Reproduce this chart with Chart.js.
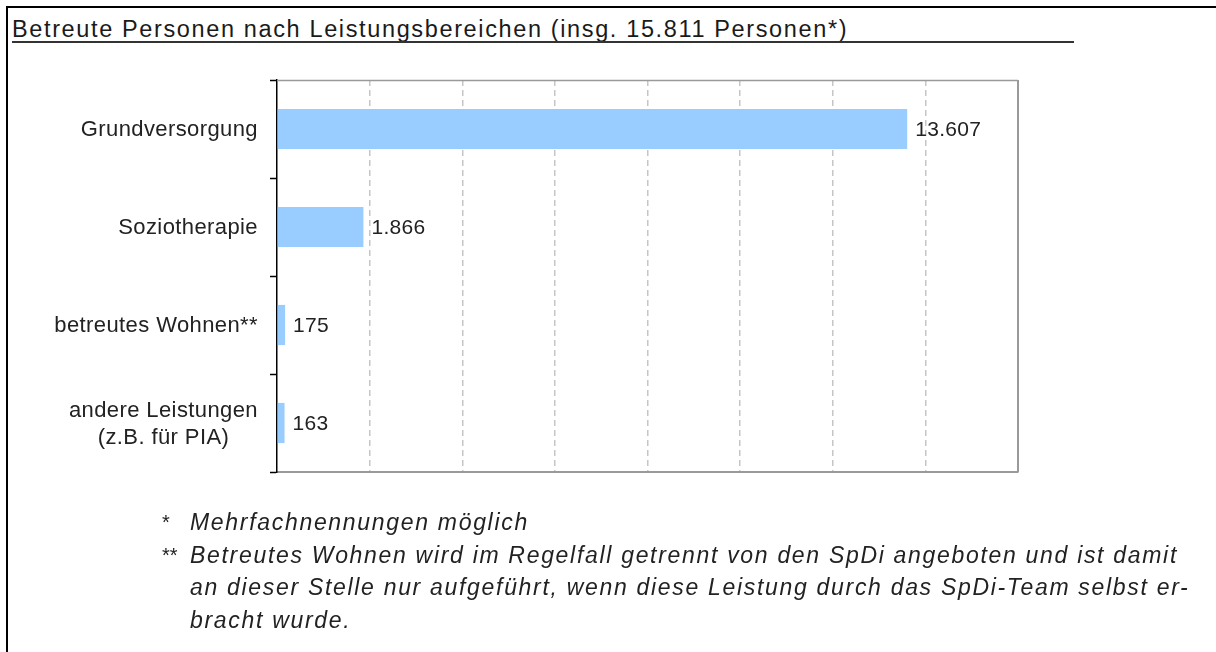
<!DOCTYPE html>
<html lang="de">
<head>
<meta charset="utf-8">
<title>Betreute Personen nach Leistungsbereichen</title>
<script src="https://cdn.jsdelivr.net/npm/chart.js@4"></script>
<style>
  html, body { margin: 0; padding: 0; background: #fff; }
  body {
    width: 1216px; height: 652px; position: relative; overflow: hidden;
    font-family: Arial, "Liberation Sans", sans-serif; color: #1a1a1a;
  }
  #frameTop { position: absolute; left: 6px; top: 6px; width: 1210px; height: 2px; background: #000; }
  #frameLeft { position: absolute; left: 6px; top: 6px; width: 2px; height: 646px; background: #000; }
  #title { position: absolute; left: 12px; top: 16px; font-size: 23.5px; line-height: 26px; white-space: nowrap; }
  #rule { position: absolute; left: 12px; top: 41px; width: 1062px; height: 2px; background: #333; }
  #chartBox { position: absolute; left: 0; top: 0; width: 1216px; height: 652px; }
  .note { position: absolute; left: 190px; font-size: 23px; font-style: italic; line-height: 32.5px; white-space: nowrap; color: #222; }
  .mark { position: absolute; left: 162px; font-size: 20px; line-height: 32.5px; white-space: nowrap; color: #222; }
</style>
</head>
<body>
<div id="frameTop"></div>
<div id="frameLeft"></div>
<div id="title"></div>
<div id="rule"></div>
<div id="chartBox"><canvas id="chart" width="1216" height="652"></canvas></div>
<div id="notes"></div>

<script>
// --- Daten ---
const titleText = "Betreute Personen nach Leistungsbereichen (insg. 15.811 Personen*)";
const categories = [
    ["Grundversorgung"],
    ["Soziotherapie"],
    ["betreutes Wohnen**"],
    ["andere Leistungen", "(z.B. für PIA)"]
];
const persons = [13607, 1866, 175, 163];
const axisMax = 16000;
const axisStep = 2000;
const noteMarks = ["*", "**"];
const noteTexts = [
    ["Mehrfachnennungen möglich"],
    ["Betreutes Wohnen wird im Regelfall getrennt von den SpDi angeboten und ist damit",
     "an dieser Stelle nur aufgeführt, wenn diese Leistung durch das SpDi-Team selbst er-",
     "bracht wurde."]
];

// --- Hilfsfunktionen ---
function formatDe(val) {
    return String(val).replace(/\B(?=(\d{3})+(?!\d))/g, ".");
}

// Zeichenabstand so waehlen, dass die Zeile die Breite des Originals hat
function fitSpacing(el, target) {
    const natural = el.getBoundingClientRect().width;
    const sp = (target - natural) / el.textContent.length;
    el.style.letterSpacing = sp.toFixed(2) + "px";
    return sp;
}

// Titel
const titleEl = document.getElementById("title");
titleEl.textContent = titleText;
fitSpacing(titleEl, 836);

// Fussnoten
const notesEl = document.getElementById("notes");
const noteTop = 506;
const noteLineH = 32.5;
let lineNo = 0;
noteTexts.forEach((lines, i) => {
    const mark = document.createElement("div");
    mark.className = "mark";
    mark.textContent = noteMarks[i];
    mark.style.top = (noteTop + lineNo * noteLineH) + "px";
    notesEl.appendChild(mark);
    lines.forEach(line => {
        const d = document.createElement("div");
        d.className = "note";
        d.textContent = line;
        d.style.top = (noteTop + lineNo * noteLineH) + "px";
        notesEl.appendChild(d);
        lineNo++;
    });
});
const noteEls = notesEl.querySelectorAll(".note");
const noteSp = fitSpacing(noteEls[1], 988);
noteEls.forEach(el => { el.style.letterSpacing = noteSp.toFixed(2) + "px"; });

// --- Plugins ---
const frameLines = {
    id: "frameLines",
    afterDraw(chart) {
        const { ctx, chartArea } = chart;
        ctx.save();
        ctx.strokeStyle = "#9a9a9a";
        ctx.lineWidth = 1.5;
        ctx.beginPath();
        ctx.moveTo(chartArea.left, chartArea.top + 0.5);
        ctx.lineTo(chartArea.right, chartArea.top + 0.5);
        ctx.stroke();
        ctx.lineWidth = 2;
        ctx.beginPath();
        ctx.moveTo(chartArea.right, chartArea.top);
        ctx.lineTo(chartArea.right, chartArea.bottom);
        ctx.stroke();
        ctx.restore();
    }
};

const barLabels = {
    id: "barLabels",
    afterDatasetsDraw(chart) {
        const { ctx, chartArea } = chart;
        const yScale = chart.scales.y;
        const meta = chart.getDatasetMeta(0);
        const lineH = 27;
        ctx.save();
        ctx.fillStyle = "#222";
        ctx.textBaseline = "middle";
        categories.forEach((lines, i) => {
            const yc = yScale.getPixelForValue(i);
            // Kategorie-Beschriftung, mehrzeilig zentriert
            ctx.font = '22px Arial, "Liberation Sans", sans-serif';
            ctx.letterSpacing = "0.4px";
            const blockW = Math.max(...lines.map(l => ctx.measureText(l).width));
            const cx = chartArea.left - 19 - blockW / 2;
            ctx.textAlign = "center";
            lines.forEach((l, j) => {
                ctx.fillText(l, cx, yc + 1 + (j - (lines.length - 1) / 2) * lineH);
            });
            // Wert
            ctx.font = '21px Arial, "Liberation Sans", sans-serif';
            ctx.letterSpacing = "0.3px";
            ctx.textAlign = "left";
            ctx.fillText(formatDe(persons[i]), meta.data[i].x + 8, yc + 1);
        });
        ctx.restore();
    }
};

// --- Chart ---
const ctx = document.getElementById("chart").getContext("2d");
new Chart(ctx, {
    type: "bar",
    data: {
        labels: categories.map(l => l.join(" ")),
        datasets: [{
            data: persons,
            backgroundColor: "#99ccff",
            borderWidth: 0,
            barPercentage: 0.41,
            categoryPercentage: 1
        }]
    },
    options: {
        indexAxis: "y",
        responsive: false,
        animation: false,
        layout: { padding: { left: 270, right: 198, top: 80, bottom: 180 } },
        plugins: {
            legend: { display: false },
            tooltip: { enabled: false }
        },
        scales: {
            x: {
                min: 0,
                max: axisMax,
                ticks: { display: false, stepSize: axisStep },
                grid: {
                    drawTicks: false,
                    lineWidth: 1.5,
                    color: (c) => (c.tick && (c.tick.value === 0 || c.tick.value === axisMax)) ? "rgba(0,0,0,0)" : "#c6c6c6"
                },
                border: { display: true, color: "#9a9a9a", width: 2, dash: [6, 4] }
            },
            y: {
                ticks: { display: false },
                grid: {
                    offset: true,
                    drawOnChartArea: false,
                    tickColor: "#000",
                    tickLength: 7,
                    tickWidth: 1.5
                },
                border: { display: true, color: "#000", width: 1.5 }
            }
        }
    },
    plugins: [frameLines, barLabels]
});
</script>
</body>
</html>
